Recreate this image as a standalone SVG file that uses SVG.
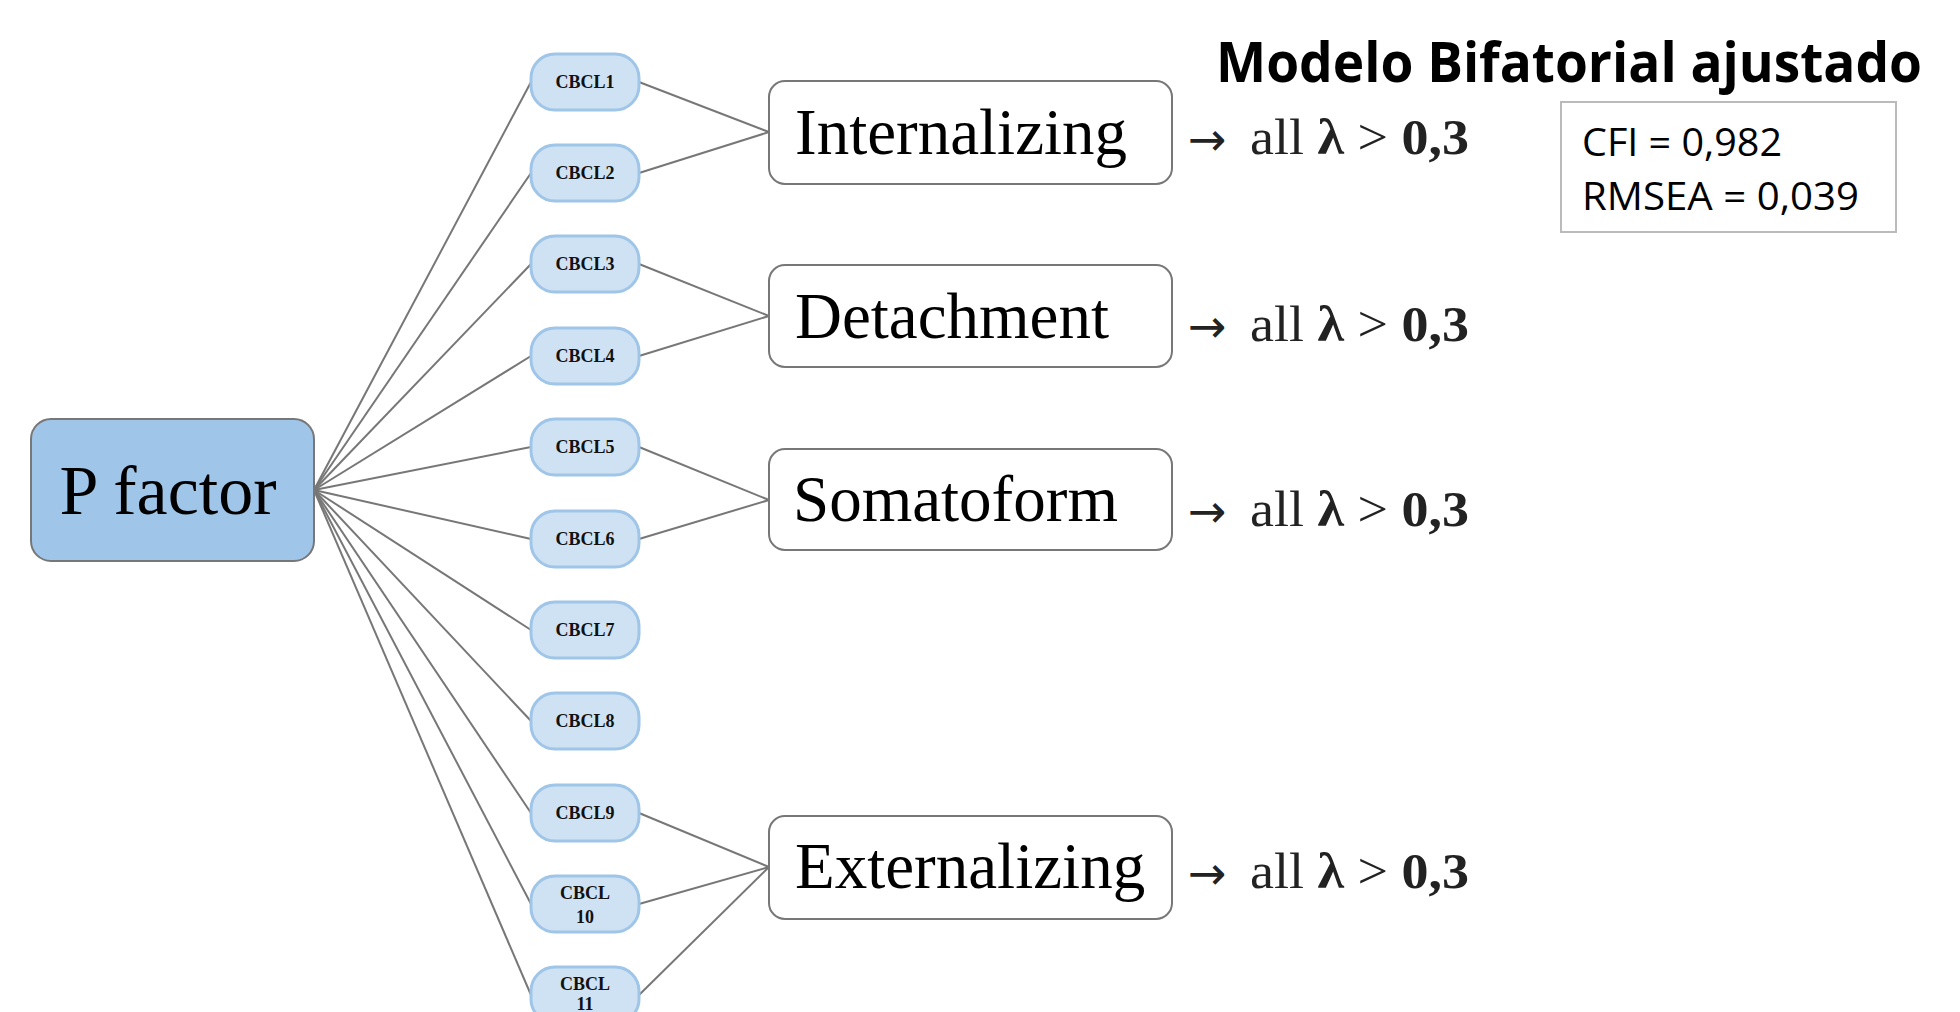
<svg xmlns="http://www.w3.org/2000/svg" width="1960" height="1012" viewBox="0 0 1960 1012">
<style>
.item rect{fill:#cfe2f3;stroke:#9fc5e8;stroke-width:3}
.item text{font-family:"Liberation Serif",serif;font-weight:bold;font-size:18px;fill:#111;text-anchor:middle}
.factor rect{fill:#fff;stroke:#777;stroke-width:2}
.factor text{font-family:"Liberation Serif",serif;font-size:65px;fill:#000}
.note{font-family:"Liberation Serif",serif;font-size:50px;fill:#222}
.arrow{font-family:"DejaVu Sans",sans-serif;font-size:46px;fill:#222}
.conn line{stroke:#777;stroke-width:2}
.fit{font-family:"Open Sans","Liberation Sans",sans-serif;fill:#000}
</style>
<rect width="1960" height="1012" fill="#fff"/>
<g class="conn">
<line x1="314" y1="490" x2="531" y2="82"/>
<line x1="314" y1="490" x2="531" y2="173"/>
<line x1="314" y1="490" x2="531" y2="264"/>
<line x1="314" y1="490" x2="531" y2="356"/>
<line x1="314" y1="490" x2="531" y2="447"/>
<line x1="314" y1="490" x2="531" y2="539"/>
<line x1="314" y1="490" x2="531" y2="630"/>
<line x1="314" y1="490" x2="531" y2="721"/>
<line x1="314" y1="490" x2="531" y2="813"/>
<line x1="314" y1="490" x2="531" y2="904"/>
<line x1="314" y1="490" x2="531" y2="995"/>
<line x1="639" y1="82" x2="769" y2="132"/>
<line x1="639" y1="173" x2="769" y2="132"/>
<line x1="639" y1="264" x2="769" y2="316"/>
<line x1="639" y1="356" x2="769" y2="316"/>
<line x1="639" y1="447" x2="769" y2="500"/>
<line x1="639" y1="539" x2="769" y2="500"/>
<line x1="639" y1="813" x2="769" y2="867"/>
<line x1="639" y1="904" x2="769" y2="867"/>
<line x1="639" y1="995" x2="769" y2="867"/>
</g>
<g id="pfactor">
<rect x="31" y="419" width="283" height="142" rx="20" fill="#9fc5e8" stroke="#777" stroke-width="2"/>
<text x="168" y="514" font-family="Liberation Serif,serif" font-size="70" text-anchor="middle" fill="#000">P factor</text>
</g>
<g id="cbcl1" class="item"><rect x="531" y="54" width="108" height="56" rx="24"/><text x="585" y="88">CBCL1</text></g>
<g id="cbcl2" class="item"><rect x="531" y="145" width="108" height="56" rx="24"/><text x="585" y="179">CBCL2</text></g>
<g id="cbcl3" class="item"><rect x="531" y="236" width="108" height="56" rx="24"/><text x="585" y="270">CBCL3</text></g>
<g id="cbcl4" class="item"><rect x="531" y="328" width="108" height="56" rx="24"/><text x="585" y="362">CBCL4</text></g>
<g id="cbcl5" class="item"><rect x="531" y="419" width="108" height="56" rx="24"/><text x="585" y="453">CBCL5</text></g>
<g id="cbcl6" class="item"><rect x="531" y="511" width="108" height="56" rx="24"/><text x="585" y="545">CBCL6</text></g>
<g id="cbcl7" class="item"><rect x="531" y="602" width="108" height="56" rx="24"/><text x="585" y="636">CBCL7</text></g>
<g id="cbcl8" class="item"><rect x="531" y="693" width="108" height="56" rx="24"/><text x="585" y="727">CBCL8</text></g>
<g id="cbcl9" class="item"><rect x="531" y="785" width="108" height="56" rx="24"/><text x="585" y="819">CBCL9</text></g>
<g id="cbcl10" class="item"><rect x="531" y="876" width="108" height="56" rx="24"/><text x="585" y="899">CBCL</text><text x="585" y="923">10</text></g>
<g id="cbcl11" class="item"><rect x="531" y="967" width="108" height="56" rx="24"/><text x="585" y="990">CBCL</text><text x="585" y="1010">11</text></g>
<g id="internalizing" class="factor"><rect x="769" y="81" width="403" height="103" rx="16"/><text x="795" y="154">Internalizing</text></g>
<g id="detachment" class="factor"><rect x="769" y="265" width="403" height="102" rx="16"/><text x="795" y="338">Detachment</text></g>
<g id="somatoform" class="factor"><rect x="769" y="449" width="403" height="101" rx="16"/><text x="793" y="521">Somatoform</text></g>
<g id="externalizing" class="factor"><rect x="769" y="816" width="403" height="103" rx="16"/><text x="795" y="888">Externalizing</text></g>
<g id="notes">
<text class="arrow" x="1188" y="155">→</text>
<text class="note" x="1250" y="154" textLength="219" lengthAdjust="spacingAndGlyphs">all <tspan font-weight="bold">λ</tspan> &gt; <tspan font-weight="bold">0,3</tspan></text>
<text class="arrow" x="1188" y="342">→</text>
<text class="note" x="1250" y="341" textLength="219" lengthAdjust="spacingAndGlyphs">all <tspan font-weight="bold">λ</tspan> &gt; <tspan font-weight="bold">0,3</tspan></text>
<text class="arrow" x="1188" y="527">→</text>
<text class="note" x="1250" y="526" textLength="219" lengthAdjust="spacingAndGlyphs">all <tspan font-weight="bold">λ</tspan> &gt; <tspan font-weight="bold">0,3</tspan></text>
<text class="arrow" x="1188" y="889">→</text>
<text class="note" x="1250" y="888" textLength="219" lengthAdjust="spacingAndGlyphs">all <tspan font-weight="bold">λ</tspan> &gt; <tspan font-weight="bold">0,3</tspan></text>
</g>
<text class="fit" x="1216" y="82" font-size="56" font-weight="bold" textLength="706" lengthAdjust="spacingAndGlyphs">Modelo Bifatorial ajustado</text>
<g id="fitbox">
<rect x="1561" y="102" width="335" height="130" fill="#fff" stroke="#bbb" stroke-width="2"/>
<text class="fit" x="1582" y="156" font-size="38" textLength="200" lengthAdjust="spacingAndGlyphs">CFI = 0,982</text>
<text class="fit" x="1582" y="210" font-size="38" textLength="277" lengthAdjust="spacingAndGlyphs">RMSEA = 0,039</text>
</g>
</svg>
